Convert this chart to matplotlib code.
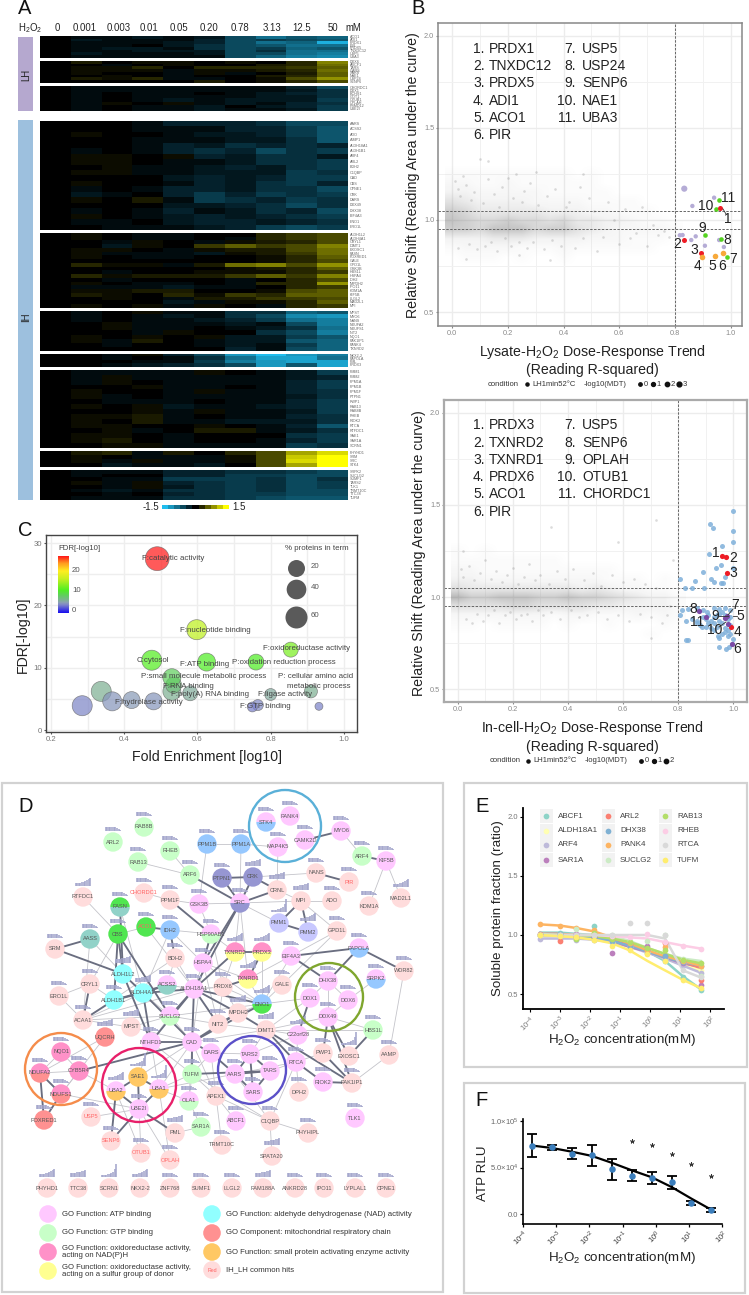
import numpy as np
import matplotlib
matplotlib.use('Agg')
import matplotlib.pyplot as plt
from matplotlib.colors import LinearSegmentedColormap
from matplotlib.patches import Circle, Wedge, Rectangle

plt.rcParams['font.family'] = ['Liberation Sans', 'DejaVu Sans']
plt.rcParams['mathtext.default'] = 'regular'
plt.rcParams['axes.unicode_minus'] = False

W, H = 749, 1295
fig = plt.figure(figsize=(W / 100, H / 100), dpi=100, facecolor='white')


def axpx(x0, y0, x1, y1, **kw):
    return fig.add_axes([x0 / W, 1 - y1 / H, (x1 - x0) / W, (y1 - y0) / H], **kw)


ov = axpx(0, 0, W, H, zorder=10)
ov.set_xlim(0, W)
ov.set_ylim(H, 0)
ov.axis('off')
ov.patch.set_alpha(0)

# ---------------------------------------------------------------- A: heatmap
dose_labels = ['0', '0.001', '0.003', '0.01', '0.05', '0.20', '0.78', '3.13', '12.5', '50']
dose_label_x = [57, 85, 119, 149, 179, 209, 240, 272, 302, 333]

g1 = [[0,-1,-1,-2,-1,-2,-6,-9,-7,-8],[0,-2,-1,-1,-1,-3,-6,-5,-6,-7],[0,-1,-1,-1,-2,-3,-6,-9,-8,-14],
      [0,-1,-1,0,-2,-4,-6,-7,-9,-9],[0,-1,-2,-2,-1,-4,-6,-5,-8,-7],[0,-1,-1,-2,-2,-2,-6,-4,-9,-9],
      [0,-2,-1,-1,-1,-2,-6,-6,-9,-10],[0,-1,-1,-1,-1,-1,-6,-8,-10,-11]]
g2 = [[0,2,0,1,1,0,1,0,3,8],[0,0,-1,0,1,0,0,2,3,7],[0,1,1,3,0,3,3,3,4,6],[0,1,1,1,-1,1,1,2,3,7],
      [0,1,0,0,-1,1,-1,0,2,6],[0,0,1,0,-1,0,0,2,3,6],[0,2,1,3,-1,-1,0,1,5,9],[0,0,0,0,0,2,0,1,3,5]]
g3 = [[0,-1,-1,-1,-1,-1,-1,-1,-3,-6],[0,-1,-1,-1,-1,-1,-1,-1,-2,-4],[0,-1,0,-1,-1,0,-1,-2,-3,-4],
      [0,-1,0,-1,-1,-1,-1,-2,-2,-4],[0,-1,0,-1,-2,-1,-2,-2,-2,-5],[0,-1,1,0,1,-1,-2,-1,-3,-4],
      [0,-1,0,-1,-1,-2,0,-2,-3,-5],[0,-1,0,-1,-1,-2,-1,-1,-2,-5]]
g4 = [[0,0,0,-1,-3,-3,-3,-4,-6,-6],[0,0,0,-1,-1,-1,-3,-3,-5,-7],[0,1,0,0,-1,-2,-2,-3,-5,-7],
      [0,0,0,-1,-1,-1,-2,-2,-4,-7],[0,0,0,-1,-3,-2,-4,-3,-4,-3],[0,-1,0,-1,-3,-4,-3,-6,-4,-5],
      [0,1,1,0,1,-3,-2,-4,-4,-2],[0,1,1,0,-1,-1,-2,-4,-4,-5],[0,0,1,-1,-1,-2,-3,-2,-4,-5],
      [0,1,1,-1,-1,-2,-2,-2,-5,-4],[0,0,0,0,-2,-3,-2,-3,-5,-5],[0,1,0,0,-1,-3,-2,-4,-5,-3],
      [0,-1,0,-1,-3,-3,-2,-4,-4,-6],[0,-2,-1,0,-3,-5,-3,-5,-4,-5],[0,1,0,2,-1,-5,-4,-3,-5,-4],
      [0,0,0,0,-2,-2,-3,-4,-6,-4],[0,-1,0,-1,-3,-1,-2,-4,-3,-6],[0,1,0,-1,-2,-3,-2,-3,-4,-5],
      [0,-1,-1,0,-2,-3,-3,-2,-3,-4],[0,0,-1,-1,-1,-2,-3,-5,-6,-5]]
g5 = [[0,1,0,-1,-1,0,0,3,4,5],[0,1,0,-1,-1,0,-1,3,4,5],[0,0,-1,1,0,-1,1,2,3,5],[0,0,-2,1,0,4,6,4,5,8],
      [0,1,1,0,-1,1,2,2,5,7],[0,1,-1,-1,-1,-2,1,2,4,7],[0,1,0,-1,-1,0,0,1,3,6],[0,0,0,0,0,0,0,1,3,5],
      [0,3,1,1,-1,2,7,8,5,9],[0,0,0,0,0,0,1,2,3,6],[0,0,-1,0,0,1,1,1,3,4],[0,3,1,2,2,2,4,6,4,8],
      [0,0,-1,0,0,0,-1,0,3,5],[0,1,0,-1,-1,0,-1,3,3,9],[0,-1,-1,-1,-2,-1,-1,0,3,4],[0,1,1,2,2,0,0,1,5,6],
      [0,2,1,0,3,1,4,3,6,6],[0,0,1,0,-1,2,2,4,4,5],[0,0,0,0,-2,-1,1,1,3,6],[0,1,0,1,-1,1,0,-1,3,4]]
g6 = [[0,-1,0,1,-1,-1,-4,-4,-8,-7],[0,-1,0,-1,-2,-1,-4,-6,-11,-12],[0,-1,0,-1,-1,-2,-3,-5,-9,-10],
      [0,0,1,-1,-1,-1,-2,-1,-6,-10],[0,0,1,-1,-1,0,-1,-2,-4,-9],[0,0,0,-1,1,0,0,-4,-6,-10],
      [0,1,0,1,0,1,-2,-2,-5,-7],[0,1,-1,2,0,-1,-2,-2,-7,-8],[0,0,-1,0,0,-1,-2,-1,-5,-8],[0,0,0,0,0,0,-3,-1,-6,-8]]
g7 = [[0,0,-1,1,-3,-6,-12,-15,-12,-10],[0,0,-1,0,-1,-4,-9,-13,-13,-9],[0,0,0,-1,-1,-5,-10,-12,-13,-13],
      [0,0,-1,-2,-3,-4,-6,-12,-7,-13]]
g8 = [[0,-1,-1,-1,-1,1,0,-1,-2,-5],[0,-1,1,-1,-1,-1,-1,-1,-2,-3],[0,-1,1,0,-1,-1,-1,-1,-3,-5],
      [0,0,0,1,-1,-1,0,-1,-3,-5],[0,1,0,0,-1,1,-1,-1,-3,-4],[0,1,-1,0,-1,-1,-1,-1,-2,-4],
      [0,0,-1,-1,-1,0,-1,-1,-3,-5],[0,1,0,1,-2,-1,-1,-2,-3,-5],[0,0,0,1,-1,1,-1,-1,-2,-5],
      [0,1,1,2,-1,0,-1,-1,-3,-4],[0,1,0,2,-1,-1,-2,-2,-2,-4],[0,1,1,0,0,1,0,-1,-3,-7],
      [0,0,1,-1,0,2,2,-1,-2,-4],[0,1,1,0,-1,0,0,0,-4,-5],[0,1,2,0,-1,0,0,-1,-3,-5],[0,0,1,1,-1,-1,-1,-1,-5,-4]]
g9 = [[0,2,3,-1,2,0,3,5,10,13],[0,1,0,-1,-1,-1,1,5,12,15],[0,1,-1,1,-1,-1,1,5,13,15],[0,0,-2,-1,-1,-2,0,5,10,15]]
g10 = [[0,-1,-1,-1,-3,-3,-4,-4,-5,-6],[0,-1,0,0,-3,-3,-5,-5,-6,-6],[0,0,-1,-1,-5,-5,-5,-4,-6,-4],
       [0,1,-1,1,-3,-4,-5,-4,-6,-5],[0,0,-1,1,-2,-4,-5,-4,-6,-5],[0,-1,-2,-1,-4,-4,-5,-4,-6,-6],
       [0,0,-1,0,-3,-4,-5,-5,-6,-6],[0,-1,-1,-1,-4,-4,-5,-6,-7,-7]]

heat_groups = [g1, g2, g3, g4, g5, g6, g7, g8, g9, g10]
heat_tops = [36, 61, 86, 121, 233, 311, 354, 370, 451, 470]
heat_bots = [58, 83, 111, 230, 308, 351, 367, 448, 467, 500]
heat_names = [
    ['ACO1', 'ADI1', 'PRDX1', 'PIR', 'PRDX5', 'TNXDC12', 'USP5', 'UBA3'],
    ['DDX6', 'ABCF1', 'TARS', 'GARS', 'SARS', 'NAE1', 'USP24', 'SENP6'],
    ['CHORDC1', 'DDX1', 'ECHS1', 'GOT1', 'OTUB1', 'OPLAH', 'PSMD12', 'UBE2I'],
    ['AARS', 'ACSS2', 'ADO', 'AIMP1', 'ALDH18A1', 'ALDH1B1', 'ARF4', 'ARL2', 'BDH2', 'C1QBP',
     'CAD', 'CBS', 'CPNE1', 'CRK', 'DARS', 'DDX49', 'DHX38', 'EIF4A3', 'ENO1', 'ERO1L'],
    ['ALDH1L2', 'ALDH4A1', 'CRYL1', 'DIMT1', 'EXOSC1', 'FASN', 'FOXRED1', 'GALE', 'GPD1L', 'GSK3B',
     'HBS1L', 'HSPA4', 'IDH2', 'IMPDH2', 'IPO11', 'KDM1A', 'KIF5B', 'LLGL2', 'MAD2L1', 'MPI'],
    ['MPST', 'MYO6', 'NANS', 'NDUFA2', 'NDUFS1', 'NIT2', 'NQO1', 'PAK1IP1', 'PANK4', 'TXNRD2'],
    ['NKX2-2', 'PAPOLA', 'PML', 'PRDX3'],
    ['PMM1', 'PMM2', 'PPM1A', 'PPM1B', 'PPM1F', 'PTPN1', 'PWP1', 'RAB13', 'RAB8B', 'RHEB',
     'RIOK2', 'RTCA', 'RTFDC1', 'SAE1', 'SAR1A', 'SCRN1'],
    ['PHYHD1', 'SRM', 'SRC', 'STK4'],
    ['SRPK2', 'SUCLG2', 'SUMF1', 'TARS2', 'TLK1', 'TRMT10C', 'TTC38', 'TUFM'],
]
heat_cmap = LinearSegmentedColormap.from_list('hm', [(0, '#20bdee'), (.4, '#04222c'), (.5, '#000000'), (.6, '#262600'), (1, '#ffff00')])

for rows, top, bot, names in zip(heat_groups, heat_tops, heat_bots, heat_names):
    a = axpx(40, top, 348, bot, zorder=1)
    a.imshow(np.array(rows) / 10, cmap=heat_cmap, vmin=-1.5, vmax=1.5, aspect='auto', interpolation='nearest')
    a.axis('off')
    dy = (bot - top) / len(names)
    for i, n in enumerate(names):
        ov.text(349.5, top + (i + .5) * dy, n, fontsize=2.7, color='#666666', va='center', ha='left')

ov.text(18, 28, 'H$_2$O$_2$', fontsize=6.9, va='center', ha='left', color='#222222')
for s, x in zip(dose_labels, dose_label_x):
    ov.text(x, 28, s, fontsize=6.9, ha='center', va='center', color='#222222')
ov.text(353, 28, 'mM', fontsize=6.9, ha='center', va='center', color='#222222')
ov.add_patch(Rectangle((18, 37), 15, 74, fc='#b5a8cf', ec='none'))
ov.add_patch(Rectangle((18, 120), 15, 380, fc='#9dc0de', ec='none'))
ov.text(26, 75, 'LH', rotation=90, fontsize=6.9, ha='center', va='center', color='#222222')
ov.text(26, 317, 'IH', rotation=90, fontsize=6.9, ha='center', va='center', color='#222222')
cb_vals = [-1.5, -1.2, -0.9, -0.6, -0.3, 0, 0.3, 0.6, 0.9, 1.2, 1.5]
cbax = axpx(162, 505, 229, 508.5, zorder=1)
cbax.imshow(np.array([cb_vals]), cmap=heat_cmap, vmin=-1.5, vmax=1.5, aspect='auto', interpolation='nearest')
cbax.axis('off')
ov.text(159, 507, '-1.5', fontsize=7, ha='right', va='center', color='#222222')
ov.text(232, 507, '1.5', fontsize=7, ha='left', va='center', color='#222222')

# ---------------------------------------------------------------- B: scatters
cloud_x = [0, .05, .1, .15, .2, .25, .3, .35, .4, .45, .5, .55, .6, .65, .7, .75, .8]
cloud_y = [1.30, 1.25, 1.20, 1.15, 1.10, 1.05, 1.00, 0.95, 0.90, 0.85, 0.80, .75]
lysate_cloud = [[0,0,0,0,0,0,0,0,0,0,0,0,0,0,0,0,0],
                [1,1,1,1,1,1,1,1,1,0,1,0,0,0,0,0,0],[2,2,1,1,2,1,1,1,1,1,1,0,0,0,0,0,0],[3,3,2,2,2,2,2,1,1,1,1,1,0,0,0,0,0],
                [5,4,3,3,3,3,2,2,2,2,1,1,1,1,0,0,0],[7,6,4,4,4,4,4,3,3,3,2,2,1,1,1,0,0],[8,7,6,6,7,6,6,5,6,4,4,3,3,2,1,1,0],
                [7,7,6,8,8,8,6,7,7,5,4,3,2,2,2,2,1],[3,3,3,4,4,4,3,3,3,3,2,2,2,1,1,1,0],[1,2,2,2,2,1,1,1,2,1,1,1,1,1,1,0,0],
                [0,1,1,1,0,1,0,0,1,0,0,0,0,0,0,0,0],[0,0,0,0,0,0,0,0,0,0,0,0,0,0,0,0,0]]
incell_cloud = [[0,0,0,0,0,0,0,0,0,0,0,0,0,0,0,0,0],
                [1,0,1,0,0,0,0,0,0,0,0,0,0,0,0,0,0],[1,1,1,1,1,1,1,1,0,0,0,0,0,0,0,0,0],[2,2,1,1,1,1,1,1,1,1,1,1,0,0,0,0,0],
                [3,3,2,2,2,2,2,2,2,2,2,1,1,1,0,1,0],[5,4,4,4,4,4,4,4,4,3,4,3,2,2,1,1,0],[9,7,7,8,8,8,7,7,8,7,7,6,5,4,3,3,1],
                [5,5,5,5,6,6,5,5,5,5,4,4,3,3,3,3,1],[2,2,2,2,2,2,2,1,2,2,1,1,1,2,1,2,1],[1,1,0,1,1,1,1,0,1,0,0,1,0,0,0,1,0],
                [0,0,0,0,0,0,0,0,0,0,0,0,0,0,1,0,0],[0,0,0,0,0,0,0,0,0,0,0,0,0,0,0,0,0]]
lysate_stray_x = [.01,.02,.03,.02,.04,.05,.06,.07,.08,.09,.1,.11,.12,.13,.14,.15,.16,.17,.18,.19,.2,.21,.22,.23,.24,.25,.26,.27,.28,.29,
                  .3,.31,.33,.34,.36,.37,.39,.41,.42,.44,.46,.47,.49,.51,.52,.54,.56,.58,.6,.62,.64,.66,.68,.7,.72,.74,.76,.78,.05,.13,.24,.35,.47]
lysate_stray_y = [1.21,1.17,1.13,.85,1.24,1.19,.87,1.11,1.15,.84,1.33,1.09,.86,1.22,.88,1.14,.83,1.07,1.18,.9,1.23,.86,1.12,1.25,.88,1.1,1.16,.85,1.2,.88,
                  1.26,1.08,.84,1.13,.89,1.17,.86,1.07,1.1,.85,1.18,.9,1.12,1.05,.83,.91,1.1,1.0,.87,1.06,.9,.93,1.07,.86,.97,.92,.94,.91,.79,1.32,.81,.78,1.25]
incell_stray_x = [.01,.02,.03,.02,.04,.05,.06,.07,.08,.09,.1,.11,.12,.13,.14,.15,.16,.17,.18,.19,.2,.21,.22,.23,.24,.25,.26,.27,.28,.29,
                  .3,.31,.33,.34,.36,.37,.39,.41,.42,.44,.46,.47,.49,.51,.52,.54,.56,.58,.6,.62,.64,.66,.68,.7,.72,.74,.76,.78,.34,.58,.72,.7,.77]
incell_stray_y = [1.15,1.11,.88,1.25,1.17,.86,1.09,.91,1.13,.87,1.2,.9,1.1,.93,1.14,.86,1.08,.9,1.12,.92,1.16,.88,1.07,.9,1.11,.91,1.18,.87,1.09,.93,
                  1.12,.9,1.07,.92,1.14,.88,1.1,.93,1.15,.89,1.09,.9,1.13,.92,1.06,.88,1.12,.9,1.08,.87,1.1,.91,1.07,.89,1.05,.86,.9,1.2,1.38,1.3,1.42,.78,.95]
lysate_lav_x = [.833,.940,.862,.817,.827,.874,.858,.907,.975,.958]
lysate_lav_y = [1.170,1.121,1.076,.917,.918,.911,.891,.860,.853,.891]
lysate_grn_x = [.958,.946,.909,.965,.987]
lysate_grn_y = [1.109,1.062,.920,.899,.801]
lysate_red_x = [.962,.831,.893]
lysate_red_y = [1.065,.891,.822]
lysate_org_x = [.898,.942,.972]
lysate_org_y = [.799,.804,.821]
incell_blue_x = [.998,.914,.925,.998,.998,.960,.912,.954,.937,.889,.998,.970,.919,.929,.954,.964,.806,.862,.824,.849,.893,
                 .815,.835,.805,.87,.89,.905,.93,.95,.97,.99,.83,.85,.87,.89,.90,.91,.92,.93,.94,.95,.96,.97,.98,.99,
                 .88,.90,.92,.93,.94,.95,.96,.97,.98,.99,.93,.945,.95,.96,.97,.98,.99,.83,.835,.95,.975,.985,.995,1.0,.87,.91,.885]
incell_blue_y = [1.469,1.395,1.373,1.357,1.299,1.277,1.234,1.176,1.158,1.136,1.158,1.109,1.100,1.080,1.078,1.078,1.096,1.085,1.047,1.051,1.051,
                 .93,.935,.90,.94,.93,.92,.94,.935,.94,.93,.87,.88,.87,.89,.88,.90,.87,.89,.90,.91,.92,.90,.88,.89,
                 .85,.84,.83,.86,.84,.87,.86,.83,.82,.85,.82,.79,.78,.80,.81,.79,.80,.765,.765,.73,.72,.73,.745,.77,.86,.86,.835]
incell_red_x = [.960,.972,.977,.993]
incell_red_y = [1.223,1.217,1.130,.839]
incell_pur_x = [.877,.901,.979,.970,.982,.996]
incell_pur_y = [.926,.891,.897,.888,.855,.743]
lysate_list = [['1.', 'PRDX1'], ['2.', 'TNXDC12'], ['3.', 'PRDX5'], ['4.', 'ADI1'], ['5.', 'ACO1'], ['6.', 'PIR'],
               ['7.', 'USP5'], ['8.', 'USP24'], ['9.', 'SENP6'], ['10.', 'NAE1'], ['11.', 'UBA3']]
incell_list = [['1.', 'PRDX3'], ['2.', 'TXNRD2'], ['3.', 'TXNRD1'], ['4.', 'PRDX6'], ['5.', 'ACO1'], ['6.', 'PIR'],
               ['7.', 'USP5'], ['8.', 'SENP6'], ['9.', 'OPLAH'], ['10.', 'OTUB1'], ['11.', 'CHORDC1']]
lysate_numbers = [('11', 727.7, 197.5), ('10', 705.7, 205.5), ('1', 727.7, 219), ('9', 701.7, 228.5), ('8', 727.3, 239.5),
                  ('2', 677, 244.5), ('3', 694, 250), ('7', 733.3, 258.7), ('4', 697.7, 265.7), ('5', 712, 265.7), ('6', 721.7, 265.7)]
incell_numbers = [('1', 715.7, 553.3), ('2', 732.7, 557.7), ('3', 733, 573.3), ('8', 693.3, 609.3), ('7', 735, 605), ('5', 740, 615.7),
                  ('9', 715, 616), ('11', 696.7, 621.7), ('10', 715, 630), ('4', 737.3, 631.7), ('6', 737.3, 649.3)]
incell_leaders = [(719, 616, 728, 616), (733, 616, 737, 616), (733, 609, 728, 615), (719, 627, 726, 622)]
lysate_leaders = [(723, 209, 726, 214)]
cloud_cmap = LinearSegmentedColormap.from_list('cl', [(0, (.55, .55, .55, 0)), (.3, (.55, .55, .55, .09)), (.6, (.55, .55, .55, .28)),
                                                      (1, (.5, .5, .5, .55))])
grid_major = [0, .2, .4, .6, .8, 1.0]
grid_minor = [.1, .3, .5, .7, .9]


def scatter_panel(box, xlim, frame_col, frame_lw, cloud, stray, list_ys, names, numbers, leaders, label1, label2, ylab_x,
                  ylab_y, lab_ys, cond_y, cond_dots, cond_labels, cx):
    a = axpx(*box, zorder=1)
    a.set_xlim(*xlim)
    a.set_ylim(*box_ylim[box])
    a.set_xticks(grid_major)
    a.set_xticklabels(['%.1f' % v for v in grid_major])
    a.set_xticks(grid_minor, minor=True)
    a.set_yticks([.5, 1, 1.5, 2])
    a.set_yticklabels(['0.5', '1.0', '1.5', '2.0'])
    a.set_yticks([.75, 1.25, 1.75], minor=True)
    a.grid(True, which='major', color='#ececec', lw=1.0)
    a.grid(True, which='minor', color='#f1f1f1', lw=0.7)
    a.set_axisbelow(True)
    a.tick_params(which='minor', length=0)
    a.tick_params(which='major', labelsize=5.3, labelcolor='#8a8a8a', length=1.5, color='#888888', pad=1.2)
    for s in a.spines.values():
        s.set_color(frame_col)
        s.set_linewidth(frame_lw)
    a.imshow(np.array(cloud, float), extent=(-.025, .825, .725, 1.325), origin='upper', cmap=cloud_cmap,
             vmin=0, vmax=9, aspect='auto', interpolation='bilinear', zorder=1)
    a.scatter(stray[0], stray[1], s=3.5, color='#8a8a8a', alpha=.3, lw=0, zorder=1.5)
    a.set_xlim(*xlim)
    a.set_ylim(*box_ylim[box])
    a.axvline(.8, color='#666666', lw=0.7, ls=(0, (2.5, 1.5)), zorder=2)
    a.axhline(1.05, color='#666666', lw=0.7, ls=(0, (2.5, 1.5)), zorder=2)
    a.axhline(.95, color='#666666', lw=0.7, ls=(0, (2.5, 1.5)), zorder=2)
    for i, (num, name) in enumerate(names):
        if i < 6:
            ov.text(cx[0], list_ys[i], num, fontsize=10, ha='left', va='center', color='#222222')
            ov.text(cx[1], list_ys[i], name, fontsize=10, ha='left', va='center', color='#222222')
        else:
            ov.text(cx[2], list_ys[i - 6], num, fontsize=10, ha='right', va='center', color='#222222')
            ov.text(cx[3], list_ys[i - 6], name, fontsize=10, ha='left', va='center', color='#222222')
    for s, x, y in numbers:
        ov.text(x, y, s, fontsize=10, ha='center', va='center', color='#222222')
    for x0, y0, x1, y1 in leaders:
        ov.plot([x0, x1], [y0, y1], color='#333333', lw=.6)
    ov.text(ylab_x, ylab_y, 'Relative Shift (Reading Area under the curve)', rotation=90, fontsize=10.2,
            ha='center', va='center', color='#222222')
    ov.text(592, lab_ys[0], label1, fontsize=10.2, ha='center', va='center', color='#222222')
    ov.text(592, lab_ys[1], label2, fontsize=10.2, ha='center', va='center', color='#222222')
    ov.text(cond_labels[0], cond_y, 'condition', fontsize=5.5, ha='left', va='center', color='#333333')
    ov.scatter([cond_labels[1]], [cond_y], s=5, color='#111111')
    ov.text(cond_labels[1] + 5, cond_y, 'LH1min52°C', fontsize=5.5, ha='left', va='center', color='#333333')
    ov.text(cond_labels[2], cond_y, '-log10(MDT)', fontsize=5.5, ha='left', va='center', color='#333333')
    for i, x in enumerate(cond_dots):
        ov.scatter([x], [cond_y], s=6 + 2 * i, color='#111111')
        ov.text(x + 3.5, cond_y, str(i), fontsize=5.5, ha='left', va='center', color='#333333')
    return a


box_ylim = {(438, 23, 742, 326): (.424, 2.07), (444, 400, 747, 702): (.43, 2.07)}
b1 = scatter_panel((438, 23, 742, 326), (-.05, 1.04), '#888888', 1.1, lysate_cloud, (lysate_stray_x, lysate_stray_y),
                   [48.7, 66, 83, 100.7, 117.7, 135], lysate_list, lysate_numbers, lysate_leaders,
                   'Lysate-H$_2$O$_2$ Dose-Response Trend', '(Reading R-squared)', 413, 175, (352, 370), 384,
                   [640, 653, 667, 679], (488, 527, 584), (473, 489, 576, 582))
b1.scatter(lysate_lav_x, lysate_lav_y, s=[20] + [10] * 9, color='#b5acd6', zorder=3, lw=0)
b1.scatter(lysate_grn_x, lysate_grn_y, s=11, color='#55d320', zorder=4, lw=0)
b1.scatter(lysate_red_x, lysate_red_y, s=13, color='#ee1c25', zorder=4, lw=0)
b1.scatter(lysate_org_x, lysate_org_y, s=16, color='#f7a93a', zorder=4, lw=0)
b2 = scatter_panel((444, 400, 747, 702), (-.05, 1.05), '#aaaaaa', 1.6, incell_cloud, (incell_stray_x, incell_stray_y),
                   [425.3, 442.7, 460, 477, 494.3, 511.7], incell_list, incell_numbers, incell_leaders,
                   'In-cell-H$_2$O$_2$ Dose-Response Trend', '(Reading R-squared)', 419, 553, (728, 747), 761,
                   [641, 654, 666], (490, 528, 585), (473, 489, 576, 582))
b2.scatter(incell_blue_x, incell_blue_y, s=13, color='#7fb0da', alpha=.85, zorder=3, lw=0)
b2.scatter(incell_red_x, incell_red_y, s=14, color='#ee1c25', zorder=4, lw=0)
b2.scatter(incell_pur_x, incell_pur_y, s=14, color='#7b4aa5', zorder=4, lw=0)

# ---------------------------------------------------------------- C: bubbles
terms_fold = [.285, .337, .367, .42, .48, .53, .535, .53, .58, .475, .625, .598, .76, .855, .91, .80, .765, .75, .932, .49]
terms_fdr = [3.9, 6.2, 4.6, 4.8, 4.6, 6.2, 7.2, 8.4, 5.9, 11.2, 10.9, 16.1, 10.9, 12.9, 6.2, 5.7, 4.0, 3.7, 3.8, 27.5]
terms_pct = [43, 43, 35, 20, 20, 27, 13, 27, 7, 43, 27, 43, 13, 7, -4, -10, -14, -19, -26, 78]
term_labels = ['F:catalytic activity', 'F:nucleotide binding', 'F:oxidoreductase activity', 'F:ATP binding',
               'P:oxidation reduction process', 'C:cytosol', 'P:small molecule metabolic process', 'P: cellular amino acid',
               'metabolic process', 'F:RNA binding', 'F:poly(A) RNA binding', 'F:ligase activity', 'F:hydrolase activity',
               'F:GTP binding']
term_label_x = [142, 180, 263, 180, 232, 137, 141, 278, 287, 163, 171, 258, 115, 240]
term_label_y = [558, 630, 649, 664, 662, 661, 677, 676, 686, 686, 694, 694, 702, 707]
size_legend_pct = [20, 40, 60]
size_legend_y = [568, 589, 617]
fdr_ticks = [20, 10, 0]
fdr_tick_y = [571, 591, 611]
fdr_cmap = LinearSegmentedColormap.from_list('fdr', [(0, '#1a10ee'), (.14, '#7f86c8'), (.18, '#8ca0b4'), (.225, '#7fb292'), (.3, '#62cc62'),
                                                     (.4, '#50ee22'), (.6, '#c8f020'), (.74, '#ffee22'),
                                                     (.88, '#ff9a20'), (1, '#ff1a1a')])


def bubble_area(pct):
    # diameter in px squared grows linearly with the percentage; converted to points squared
    return (191 + 4.9 * np.asarray(pct, float)) * .72 ** 2


c = axpx(46, 535, 357, 732, zorder=1)
c.set_xlim(.186, 1.036)
c.set_ylim(-.32, 31.3)
c.set_xticks([.2, .4, .6, .8, 1.0])
c.set_xticklabels(['0.2', '0.4', '0.6', '0.8', '1.0'])
c.set_yticks([0, 10, 20, 30])
c.set_xticks([.3, .5, .7, .9], minor=True)
c.set_yticks([5, 15, 25], minor=True)
c.grid(True, which='both', color='#eeeeee', lw=1)
c.set_axisbelow(True)
c.tick_params(which='minor', length=0)
c.tick_params(which='major', labelsize=5.6, labelcolor='#777777', length=1.5, color='#555555', pad=1.2)
for s in c.spines.values():
    s.set_color('#444444')
    s.set_linewidth(1)
c.scatter(terms_fold, terms_fdr, s=bubble_area(terms_pct), c=terms_fdr, cmap=fdr_cmap, vmin=0, vmax=27.5, alpha=.72,
          edgecolors='#666666', linewidths=.5, zorder=3)
for s, x, y in zip(term_labels, term_label_x, term_label_y):
    ov.text(x, y, s, fontsize=5.7, ha='left', va='center', color='#444444')
cbc = axpx(58, 556, 69, 613, zorder=2)
cbc.imshow(np.linspace(1, 0, 100)[:, None], cmap=fdr_cmap, aspect='auto', vmin=0, vmax=1)
cbc.axis('off')
ov.text(58, 549, 'FDR[-log10]', fontsize=5.7, ha='left', va='center', color='#444444')
for t, y in zip(fdr_ticks, fdr_tick_y):
    ov.text(72, y, str(t), fontsize=5.7, ha='left', va='center', color='#555555')
ov.text(285, 549, '% proteins in term', fontsize=5.7, ha='left', va='center', color='#444444')
for p, y in zip(size_legend_pct, size_legend_y):
    ov.scatter([296], [y], s=bubble_area(p), color='#5a5a5a', lw=0)
    ov.text(311, y - 1.5, str(p), fontsize=5.7, ha='left', va='center', color='#555555')
ov.text(23, 635, 'FDR[-log10]', rotation=90, fontsize=10.2, ha='center', va='center', color='#222222')
ov.text(207, 757, 'Fold Enrichment [log10]', fontsize=10.2, ha='center', va='center', color='#222222')

# ---------------------------------------------------------------- D: network
ATP, GTP, NAD, SUL, ALD, MIT, SMP, COM = '#ffc8ff', '#c8ffc8', '#ff91c8', '#ffff91', '#91ffff', '#ff9191', '#ffc864', '#ffdcdc'
BLU, KIN, GRN, TEA, LAV = '#96c8ff', '#9696d2', '#50e650', '#91d2c8', '#c8c8ff'
nodes = {
    'RAB8B': (144, 827, GTP), 'ARL2': (113, 842, GTP), 'RHEB': (170, 851, GTP), 'RAB13': (138, 862, GTP),
    'PPM1B': (207, 844, BLU), 'ARF6': (190, 875, GTP), 'PTPN1': (222, 878, KIN), 'RTFDC1': (83, 897, COM),
    'CHORDC1': (144, 893, COM), 'PPM1F': (170, 900, COM), 'GSK3B': (199, 904, ATP), 'FASN': (120, 907, (GRN, TEA)),
    'ACO1': (146, 927, GRN), 'IDH2': (170, 930, BLU), 'CBS': (118, 934, GRN), 'HSP90AB1': (211, 934, (ATP, GTP)),
    'AASS': (90, 939, TEA), 'SRM': (55, 949, COM), 'BDH2': (175, 958, COM), 'HSPA4': (203, 963, ATP),
    'ALDH1L2': (123, 974, ALD), 'CRYL1': (90, 984, COM), 'ACSS2': (167, 985, (ATP, TEA)), 'ALDH18A1': (194, 989, ATP),
    'PRDX6': (223, 987, COM), 'ERO1L': (59, 996, COM), 'ALDH4A1': (143, 993, ALD), 'ALDH1B1': (114, 1000, ALD),
    'SUCLG2': (170, 1016, (ATP, GTP)), 'ACAA1': (83, 1020, COM), 'NIT2': (218, 1024, COM), 'MPST': (131, 1027, COM),
    'UQCRH': (105, 1037, MIT), 'STK4': (266, 822, (ATP, BLU)), 'PANK4': (290, 816, ATP), 'MAP4K5': (278, 847, ATP),
    'CAMK2D': (305, 840, ATP), 'MYO6': (341, 831, ATP), 'PPM1A': (241, 844, BLU), 'ARF4': (362, 856, GTP),
    'KIF5B': (386, 861, ATP), 'CRK': (253, 877, KIN), 'NANS': (316, 873, COM), 'PIR': (349, 882, COM),
    'CRNL': (277, 890, COM), 'MPI': (301, 901, COM), 'ADO': (332, 901, COM), 'MAD2L1': (401, 898, COM),
    'KDM1A': (369, 906, COM), 'SRC': (240, 903, (ATP, KIN)), 'PMM1': (279, 923, LAV), 'PMM2': (308, 932, LAV),
    'GPD1L': (337, 931, COM), 'TXNRD2': (235, 952, (NAD, SUL)), 'PRDX3': (262, 952, (NAD, SUL)), 'EIF4A3': (291, 956, ATP),
    'PAPOLA': (359, 948, (ATP, BLU)), 'WDR82': (404, 971, COM), 'DHX38': (328, 981, ATP), 'SRPK2': (376, 979, (ATP, BLU)),
    'TXNRD1': (248, 979, (NAD, SUL)), 'GALE': (282, 985, COM), 'DDX1': (310, 998, ATP), 'DDX6': (348, 1000, ATP),
    'ENO1': (262, 1004, (BLU, GRN)), 'MPDH2': (238, 1013, COM), 'DDX49': (328, 1017, ATP), 'DIMT1': (266, 1030, COM),
    'C22orf28': (298, 1035, ATP), 'HBS1L': (373, 1030, GTP), 'NTHFD1': (151, 1042, ATP), 'CAD': (192, 1042, ATP),
    'DARS': (211, 1053, ATP), 'TARS2': (250, 1054, ATP), 'PWP1': (323, 1053, COM), 'EXOSC1': (349, 1056, COM),
    'AAMP': (389, 1055, COM), 'RTCA': (296, 1062, ATP), 'NQO1': (61, 1052, NAD), 'NDUFA2': (40, 1073, (NAD, MIT)),
    'CYB5R4': (79, 1071, NAD), 'SAE1': (138, 1077, SMP), 'TARS': (270, 1071, ATP), 'AARS': (235, 1074, ATP),
    'TUFM': (192, 1074, GTP), 'RIOK2': (323, 1082, ATP), 'PAK1IP1': (352, 1083, COM), 'UBA2': (116, 1091, (ATP, SMP)),
    'UBA1': (159, 1089, (ATP, SMP)), 'NDUFS1': (61, 1094, (NAD, MIT)), 'SARS': (253, 1092, ATP), 'APEX1': (216, 1096, COM),
    'OLA1': (189, 1101, (ATP, GTP)), 'DPH2': (299, 1092, COM), 'UBE2I': (139, 1109, ATP), 'USP5': (91, 1117, COM),
    'FOXRED1': (44, 1120, MIT), 'ABCF1': (236, 1121, ATP), 'C1QBP': (270, 1121, COM), 'TLK1': (355, 1118, ATP),
    'SAR1A': (201, 1127, GTP), 'PML': (175, 1133, COM), 'PHYHIPL': (308, 1133, COM), 'SENP6': (111, 1141, COM),
    'TRMT10C': (222, 1145, COM), 'OTUB1': (141, 1153, COM), 'SPATA20': (272, 1156, COM), 'OPLAH': (170, 1160, COM),
    'PHYHD1': (47, 1188, COM), 'TTC38': (78, 1188, COM), 'SCRN1': (109, 1188, COM), 'NKX2-2': (140, 1188, COM),
    'ZNF768': (170, 1188, COM), 'SUMF1': (201, 1188, COM), 'LLGL2': (232, 1188, COM), 'FAM188A': (263, 1188, COM),
    'ANKRD28': (295, 1188, COM), 'IPO11': (324, 1188, COM), 'LYPLAL1': (355, 1188, COM), 'CPNE1': (386, 1188, COM),
}
red_text_nodes = ['CHORDC1', 'ACO1', 'PIR', 'USP5', 'SENP6', 'OTUB1', 'OPLAH']
edges_strong = [
    ('ARF6', 'SRC'), ('PTPN1', 'SRC'), ('CRK', 'SRC'), ('CRK', 'PTPN1'), ('CRK', 'CRNL'), ('SRC', 'CRNL'), ('MPI', 'PMM1'),
    ('MPI', 'PMM2'), ('PMM1', 'PMM2'), ('CAMK2D', 'MYO6'), ('ARF4', 'KIF5B'), ('NANS', 'PIR'), ('EIF4A3', 'PAPOLA'),
    ('EIF4A3', 'DHX38'), ('PAPOLA', 'DHX38'), ('PAPOLA', 'WDR82'), ('DDX1', 'C22orf28'), ('DDX49', 'EXOSC1'),
    ('EXOSC1', 'HBS1L'), ('DDX49', 'PWP1'), ('PWP1', 'PAK1IP1'), ('RIOK2', 'PAK1IP1'), ('RIOK2', 'RTCA'), ('DIMT1', 'RTCA'),
    ('DIMT1', 'PAK1IP1'), ('DDX49', 'PAK1IP1'), ('AARS', 'TARS2'), ('AARS', 'SARS'), ('TARS', 'SARS'), ('TARS2', 'SARS'), ('TARS', 'TARS2'),
    ('AARS', 'TARS'), ('AARS', 'DARS'), ('UBE2I', 'PML'), ('SAE1', 'UBA2'), ('SAE1', 'UBE2I'), ('UBA1', 'UBE2I'), ('UBA2', 'UBE2I'),
    ('SAE1', 'UBA1'), ('NDUFA2', 'NDUFS1'), ('NDUFA2', 'FOXRED1'), ('NDUFS1', 'FOXRED1'), ('SENP6', 'UBA2'), ('SENP6', 'UBE2I'),
    ('ALDH1L2', 'ALDH4A1'), ('ALDH1B1', 'ALDH4A1'), ('ALDH4A1', 'ALDH18A1'), ('CBS', 'ALDH1L2'), ('ACO1', 'IDH2'), ('AASS', 'SRM'),
    ('SRM', 'ALDH1L2'), ('ACAA1', 'CRYL1'), ('ALDH4A1', 'NTHFD1'), ('ALDH1L2', 'NTHFD1'), ('ALDH18A1', 'CAD'), ('ALDH18A1', 'NTHFD1'),
    ('NTHFD1', 'CAD'), ('CAD', 'DARS'), ('CAD', 'TUFM'), ('SUCLG2', 'ALDH18A1'), ('HSPA4', 'SRC'), ('ENO1', 'ALDH18A1'), ('MPDH2', 'ALDH18A1'),
    ('IDH2', 'BDH2'), ('HSP90AB1', 'HSPA4'), ('SRC', 'ALDH18A1'), ('TXNRD2', 'PRDX3'), ('TXNRD1', 'PRDX3'), ('TXNRD1', 'PRDX6'),
    ('CYB5R4', 'CAD'), ('CBS', 'SUCLG2'), ('CBS', 'ALDH1B1'), ('FASN', 'ALDH1L2'), ('ACSS2', 'ALDH4A1'), ('PPM1F', 'HSP90AB1'),
    ('ALDH1B1', 'ACAA1'), ('MPDH2', 'NIT2'), ('MPDH2', 'DIMT1'), ('CAD', 'MPDH2'), ('ALDH1B1', 'ACSS2'), ('NIT2', 'ALDH18A1'),
    ('CAD', 'ALDH4A1'), ('ENO1', 'CAD'), ('TUFM', 'TARS'), ('TXNRD2', 'ALDH18A1'),
]
edges_light = [
    ('RAB13', 'ARF6'), ('RHEB', 'ARF6'), ('PPM1B', 'GSK3B'), ('PPM1B', 'PPM1A'), ('PPM1A', 'SRC'), ('MAP4K5', 'CRNL'), ('MAP4K5', 'PPM1A'),
    ('MYO6', 'ARF4'), ('KIF5B', 'KDM1A'), ('KIF5B', 'MAD2L1'), ('CRK', 'NANS'), ('MPI', 'ADO'), ('MPI', 'CRNL'), ('MPI', 'GPD1L'),
    ('GPD1L', 'EIF4A3'), ('GPD1L', 'GALE'), ('SRC', 'MPI'), ('SRC', 'PMM1'), ('RTFDC1', 'CBS'), ('CHORDC1', 'PPM1F'), ('PPM1F', 'GSK3B'),
    ('GSK3B', 'HSP90AB1'), ('GSK3B', 'SRC'), ('ACO1', 'CBS'), ('ACO1', 'ALDH18A1'), ('IDH2', 'HSP90AB1'), ('IDH2', 'HSPA4'), ('IDH2', 'ALDH4A1'),
    ('CBS', 'CRYL1'), ('AASS', 'ALDH1L2'), ('AASS', 'ACAA1'), ('BDH2', 'ALDH18A1'), ('BDH2', 'ACAA1'), ('HSPA4', 'TXNRD1'), ('HSPA4', 'NIT2'),
    ('HSPA4', 'CAD'), ('HSPA4', 'ENO1'), ('CRYL1', 'ALDH1B1'), ('CRYL1', 'ERO1L'), ('ACAA1', 'ALDH18A1'), ('ACAA1', 'SUCLG2'), ('ACAA1', 'MPST'),
    ('ACAA1', 'ALDH4A1'), ('MPST', 'CAD'), ('MPST', 'SUCLG2'), ('UQCRH', 'NDUFA2'), ('UQCRH', 'NDUFS1'), ('NQO1', 'CYB5R4'), ('NQO1', 'NDUFA2'),
    ('CYB5R4', 'NDUFS1'), ('CYB5R4', 'NDUFA2'), ('CYB5R4', 'UBA2'), ('NDUFS1', 'UBE2I'), ('NTHFD1', 'SAE1'), ('NTHFD1', 'UBA1'), ('NTHFD1', 'TUFM'),
    ('CAD', 'SAE1'), ('CAD', 'UBA1'), ('CAD', 'OLA1'), ('CAD', 'APEX1'), ('DARS', 'TUFM'), ('DARS', 'APEX1'), ('DARS', 'TARS2'), ('UBA1', 'TUFM'),
    ('UBA1', 'AARS'), ('UBA1', 'OLA1'), ('USP5', 'UBE2I'), ('OTUB1', 'UBE2I'), ('OPLAH', 'UBE2I'), ('OPLAH', 'UBA1'), ('UBA2', 'OTUB1'),
    ('TUFM', 'APEX1'), ('TUFM', 'OLA1'), ('TUFM', 'C1QBP'), ('APEX1', 'ABCF1'), ('APEX1', 'C1QBP'), ('APEX1', 'TRMT10C'), ('OLA1', 'SAR1A'),
    ('C1QBP', 'PHYHIPL'), ('C1QBP', 'SPATA20'), ('C1QBP', 'AARS'), ('C1QBP', 'RTCA'), ('RTCA', 'DPH2'), ('RTCA', 'PWP1'), ('PAK1IP1', 'AAMP'),
    ('AAMP', 'WDR82'), ('DDX6', 'SRPK2'), ('DDX6', 'DDX49'), ('DDX6', 'DHX38'), ('DDX1', 'DHX38'), ('DHX38', 'DDX49'), ('DDX1', 'ENO1'),
    ('DDX1', 'DIMT1'), ('DDX49', 'HBS1L'), ('DDX49', 'DIMT1'), ('GALE', 'ENO1'), ('EIF4A3', 'TXNRD1'), ('EIF4A3', 'ENO1'), ('ENO1', 'TXNRD1'),
    ('ENO1', 'PRDX6'), ('ENO1', 'NIT2'), ('ENO1', 'PRDX3'), ('PRDX6', 'TXNRD2'), ('PRDX6', 'ALDH18A1'), ('SRC', 'TXNRD2'), ('SRC', 'TXNRD1'),
    ('PRDX6', 'NIT2'), ('PRDX6', 'MPDH2'), ('NIT2', 'CAD'), ('NIT2', 'DIMT1'), ('DIMT1', 'CAD'), ('DIMT1', 'TARS2'), ('DIMT1', 'C22orf28'),
    ('C22orf28', 'RTCA'), ('C22orf28', 'TARS2'), ('DIMT1', 'HBS1L'), ('ALDH18A1', 'ACSS2'), ('ALDH18A1', 'PRDX6'), ('ALDH18A1', 'HSPA4'),
    ('TXNRD2', 'HSP90AB1'), ('ENO1', 'MPDH2'), ('ENO1', 'SUCLG2'), ('SUCLG2', 'NIT2'), ('SUCLG2', 'NTHFD1'), ('SUCLG2', 'CAD'), ('ALDH4A1', 'SUCLG2'),
    ('ERO1L', 'ACAA1'), ('PML', 'SAR1A'), ('RTCA', 'TARS'), ('AARS', 'RTCA'), ('FASN', 'ALDH4A1'), ('ACSS2', 'BDH2'), ('HSP90AB1', 'PRDX6'),
]
spark_flat = [4, 4, 4, 4, 4, 4, 4, 3, 2, 1]
spark_mid = [4, 4, 4, 4, 5, 5, 5, 6, 6, 7]
spark_rise = [3, 3, 3, 3, 4, 4, 5, 6, 7, 8]
spark_steep = [2, 2, 2, 2, 3, 3, 4, 5, 8, 13]
spark_mid_nodes = ['CRNL', 'MPI', 'ALDH1L2', 'UQCRH', 'TTC38', 'FAM188A', 'SPATA20', 'MPDH2', 'DIMT1', 'MPST', 'ALDH4A1', 'PML', 'CRK']
spark_rise_nodes = ['RTFDC1', 'PMM2', 'MAD2L1', 'PRDX3', 'TXNRD2', 'TXNRD1', 'ENO1', 'UBA2', 'PHYHD1', 'NKX2-2', 'C22orf28']
spark_steep_nodes = ['PMM1', 'SAE1', 'UBA1', 'SCRN1', 'EXOSC1']
network_circles = [(285, 826, 36, '#5ab0d8'), (329, 997, 34, '#7fa62e'), (252, 1070, 34, '#5b50c8'),
                   (139, 1085, 37, '#e8206a'), (61, 1069, 36, '#f58c4b')]
legend_entries = [
    (48, 1214, ATP, 'GO Function: ATP binding'), (48, 1233, GTP, 'GO Function: GTP binding'),
    (48, 1252, NAD, 'GO Function: oxidoreductase activity,\nacting on NAD(P)H'),
    (48, 1271, SUL, 'GO Function: oxidoreductase activity,\nacting on a sulfur group of donor'),
    (212, 1214, ALD, 'GO Function: aldehyde dehydrogenase (NAD) activity'),
    (212, 1233, MIT, 'GO Component: mitochondrial respiratory chain'),
    (212, 1252, SMP, 'GO Function: small protein activating enzyme activity'),
    (212, 1270, COM, 'IH_LH common hits'),
]

for lst, col, lw in ((edges_light, '#c4c4ca', .6), (edges_strong, '#6a6e80', 1.35)):
    for p, q in lst:
        ov.plot([nodes[p][0], nodes[q][0]], [nodes[p][1], nodes[q][1]], color=col, lw=lw, zorder=2, solid_capstyle='round')
R = 9.7
for name, (x, y, col) in nodes.items():
    if isinstance(col, tuple):
        ov.add_patch(Wedge((x, y), R, 180, 360, fc=col[0], ec='none', zorder=3))
        ov.add_patch(Wedge((x, y), R, 0, 180, fc=col[1], ec='none', zorder=3))
    else:
        ov.add_patch(Circle((x, y), R, fc=col, ec='none', zorder=3))
    tc = '#ff6464' if name in red_text_nodes else '#555555'
    ov.text(x, y, name, fontsize=4.1, ha='center', va='center', color=tc, zorder=4)
    pattern = spark_flat
    if name in spark_mid_nodes:
        pattern = spark_mid
    elif name in spark_rise_nodes:
        pattern = spark_rise
    elif name in spark_steep_nodes:
        pattern = spark_steep
    base = y - 10.6
    xs = x - 7.5 + np.arange(10) * 1.65
    ov.vlines(xs, base - np.array(pattern), base, color='#a4a6cc', lw=1.15, zorder=4)
for cx_, cy_, r_, col in network_circles:
    ov.add_patch(Circle((cx_, cy_), r_, fc='none', ec=col, lw=1.7, zorder=5))
for x, y, col, s in legend_entries:
    ov.add_patch(Circle((x, y), 8.8, fc=col, ec='none'))
    ov.text(x + 14, y, s, fontsize=5.6, ha='left', va='center', color='#333333', linespacing=.95)
ov.text(212, 1270, 'Red', fontsize=3.8, ha='center', va='center', color='#ff6464')

# ---------------------------------------------------------------- E: dose-response
e_doses = [.00022, .001, .0034, .014, .054, .21, .83, 3.2, 12.6, 50]
e_names = ['ABCF1', 'ALDH18A1', 'ARF4', 'SAR1A', 'ARL2', 'DHX38', 'PANK4', 'SUCLG2', 'RAB13', 'RHEB', 'RTCA', 'TUFM']
e_colors = ['#8dd3c7', '#ffffb3', '#bebada', '#bc80bd', '#fb8072', '#80b1d3', '#fdb462', '#ccebc5', '#b3de69', '#fccde5', '#d9d9d9', '#ffed6f']
curve_abcf1 = [1.02, 1.02, 1.01, 1.00, .97, .92, .86, .78, .65, .54]
curve_aldh = [.99, .99, .98, .97, .95, .91, .86, .80, .75, .70]
curve_arf4 = [.97, .97, .97, .96, .94, .90, .85, .80, .74, .68]
curve_sar1a = [1.0, 1.0, .99, .98, .95, .90, .86, .81, .76, .73]
curve_arl2 = [1.01, 1.01, 1.0, .98, .96, .92, .87, .82, .77, .72]
curve_dhx38 = [1.0, 1.0, .99, .98, .95, .91, .86, .81, .77, .74]
curve_pank4 = [1.09, 1.08, 1.06, 1.03, .98, .93, .87, .82, .78, .74]
curve_suclg2 = [1.01, 1.0, 1.0, 1.0, .99, .95, .89, .84, .80, .78]
curve_rab13 = [1.0, 1.0, 1.0, .99, .97, .94, .89, .84, .79, .76]
curve_rheb = [1.0, 1.0, 1.0, 1.0, .99, .98, .97, .94, .91, .885]
curve_rtca = [1.0, 1.0, 1.0, 1.0, 1.0, 1.0, 1.0, .97, .70, .64]
curve_tufm = [1.0, .99, .98, .96, .93, .87, .78, .70, .62, .55]
points_abcf1 = [1.01, 1.02, .97, 1.08, .97, .92, .85, .78, .64, .53]
points_aldh = [.99, 1.0, .97, .96, .94, .90, .86, .80, .76, .70]
points_arf4 = [.97, .97, .96, .96, .94, .91, .86, .80, .75, .68]
points_sar1a = [1.0, 1.0, 1.01, .98, .85, .90, .91, .82, .76, .58]
points_arl2 = [1.01, .95, .98, .98, .96, .92, .87, .93, .78, .62]
points_dhx38 = [1.0, 1.01, .99, .98, .95, .91, .87, .82, .77, .74]
points_pank4 = [1.09, 1.08, 1.06, 1.04, .98, .93, .87, .90, .78, .74]
points_suclg2 = [1.0, 1.0, 1.05, 1.01, 1.0, .95, .95, 1.0, .80, .65]
points_rab13 = [1.0, 1.0, .97, 1.02, .97, .94, .89, .87, .79, .76]
points_rheb = [1.0, 1.0, 1.0, 1.0, .99, .98, 1.01, .94, .91, .885]
points_rtca = [1.0, 1.0, 1.0, 1.0, 1.0, 1.1, 1.1, 1.0, .70, .64]
points_tufm = [1.0, .99, .98, .96, .91, .87, .84, .78, .62, .55]
e_curves = [curve_abcf1, curve_aldh, curve_arf4, curve_sar1a, curve_arl2, curve_dhx38, curve_pank4, curve_suclg2, curve_rab13,
            curve_rheb, curve_rtca, curve_tufm]
e_points = [points_abcf1, points_aldh, points_arf4, points_sar1a, points_arl2, points_dhx38, points_pank4, points_suclg2, points_rab13,
            points_rheb, points_rtca, points_tufm]
log_ticks = [1e-4, 1e-3, 1e-2, 1e-1, 1e0, 1e1, 1e2]
log_tick_labels = ['10$^{-4}$', '10$^{-3}$', '10$^{-2}$', '10$^{-1}$', '10$^{0}$', '10$^{1}$', '10$^{2}$']

e = axpx(523, 808, 724, 1009, zorder=1)
e.set_xscale('log')
e.set_xlim(10 ** -4.23, 10 ** 2.47)
e.set_ylim(.373, 2.076)
for col, cv, pts in zip(e_colors, e_curves, e_points):
    e.plot(e_doses, cv, color=col, lw=1.8, zorder=2, solid_joinstyle='round')
    e.scatter(e_doses, pts, s=17, color=col, zorder=3, lw=0)
e.set_xticks(log_ticks)
e.set_xticklabels(log_tick_labels, rotation=45, ha='right', rotation_mode='anchor')
e.minorticks_off()
e.set_yticks([.5, 1, 1.5, 2])
e.set_yticklabels(['0.5', '1.0', '1.5', '2.0'])
e.tick_params(labelsize=5.5, labelcolor='#777777', length=2, width=.8, pad=1.5)
for s in ('top', 'right'):
    e.spines[s].set_visible(False)
for s in ('left', 'bottom'):
    e.spines[s].set_linewidth(1.3)
e_key_x = [546, 608, 665]
e_text_x = [558, 620, 677]
e_key_y = [816, 830.5, 845, 860]
for i, (n, col) in enumerate(zip(e_names, e_colors)):
    k, r = i // 4, i % 4
    ov.add_patch(Rectangle((e_key_x[k] - 6.5, e_key_y[r] - 7), 13, 14, fc='#f2f2f2', ec='none', zorder=1))
    ov.scatter([e_key_x[k]], [e_key_y[r]], s=17, color=col, lw=0, zorder=2)
    ov.text(e_text_x[k], e_key_y[r], n, fontsize=5.8, ha='left', va='center', color='#444444')
ov.text(498, 908, 'Soluble protein fraction (ratio)', rotation=90, fontsize=9.6, ha='center', va='center', color='#222222')
ov.text(622, 1040, 'H$_2$O$_2$ concentration(mM)', fontsize=9.6, ha='center', va='center', color='#222222')

# ---------------------------------------------------------------- F: ATP
f_doses = [.000186, .00074, .00295, .0117, .048, .19, .76, 3.02, 12.0, 48]
f_values = [73600, 72000, 65000, 63000, 48000, 41000, 39000, 34000, 11500, 4600]
f_errors = [12500, 2700, 5500, 11000, 11500, 6000, 6500, 7000, 2000, 2000]
f_curve = [73600, 71000, 67000, 62500, 55000, 47000, 39500, 29000, 16500, 4500]
f_star_doses = [.19, .76, 3.02, 12.0, 48]
f_star_values = [78000, 73800, 64200, 54300, 41000]

f = axpx(523, 1119, 722, 1224, zorder=1)
f.set_xscale('log')
f.set_xlim(1e-4, 1e2)
f.set_ylim(-10750, 102150)
f.plot(f_doses, f_curve, color='black', lw=1.6, zorder=2)
f.errorbar(f_doses, f_values, yerr=f_errors, fmt='none', ecolor='black', elinewidth=1.3, capsize=3.5, capthick=1.3, zorder=3)
f.scatter(f_doses, f_values, s=22, color='#3b7ebc', zorder=4, lw=0)
f.scatter(f_star_doses, f_star_values, marker=(5, 2, 0), s=9, color='#333333', lw=.5, zorder=4)
f.set_xticks(log_ticks)
f.set_xticklabels(log_tick_labels, rotation=45, ha='right', rotation_mode='anchor')
f.minorticks_off()
f.set_yticks([0, 50000, 100000])
f.set_yticklabels(['0.0', '5.0×10$^{4}$', '1.0×10$^{5}$'])
f.tick_params(labelsize=5.5, labelcolor='#666666', length=2, width=.9, pad=1.2)
f.tick_params(axis='x', labelcolor='#333333')
for s in ('top', 'right'):
    f.spines[s].set_visible(False)
for s in ('left', 'bottom'):
    f.spines[s].set_linewidth(1.2)
ov.text(483, 1173, 'ATP RLU', rotation=90, fontsize=9.6, ha='center', va='center', color='#222222')
ov.text(622, 1258, 'H$_2$O$_2$ concentration(mM)', fontsize=9.6, ha='center', va='center', color='#222222')

# ---------------------------------------------------------------- frames and letters
for (x0, y0, x1, y1) in [(2, 783, 443, 1292), (464, 783, 747, 1067), (464, 1083, 745, 1293)]:
    ov.add_patch(Rectangle((x0, y0), x1 - x0, y1 - y0, fc='none', ec='#d2d2d2', lw=1.6, zorder=0))
panel_letters = [('A', 18, 9), ('B', 411, 9), ('C', 18, 530), ('D', 18, 807), ('E', 475, 807), ('F', 475, 1100)]
for s, x, y in panel_letters:
    ov.text(x, y, s, fontsize=14.5, ha='left', va='center', color='#111111')

ov.set_xlim(0, W)
ov.set_ylim(H, 0)
fig.savefig('out.png', dpi=100, facecolor='white')
